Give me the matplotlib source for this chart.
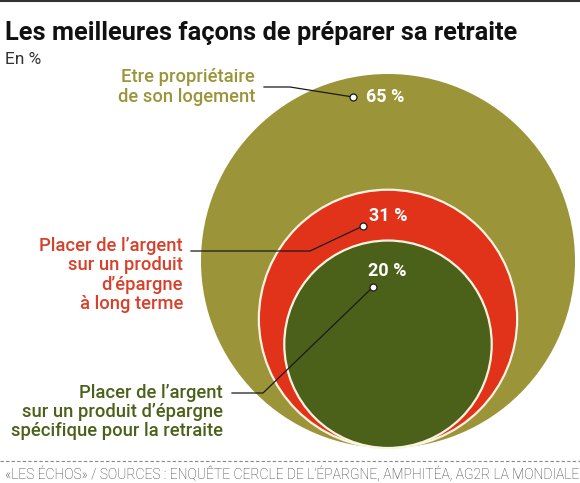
import matplotlib.pyplot as plt
from matplotlib.patches import Circle
import numpy as np

# données
valeurs = [65, 31, 20]
etiquettes_val = ['65 %', '31 %', '20 %']
libelles = ['Etre propriétaire\nde son logement',
            'Placer de l\u2019argent\nsur un produit\nd\u2019épargne\nà long terme',
            'Placer de l\u2019argent\nsur un produit d\u2019épargne\nspécifique pour la retraite']
couleurs = ['#9c9438', '#e1331a', '#4b6119']
couleurs_txt = ['#9c9438', '#d9402a', '#4b6119']

titre = 'Les meilleures façons de préparer sa retraite'
sous_titre = 'En %'
source = '«LES ÉCHOS» / SOURCES : ENQUÊTE CERCLE DE L\u2019ÉPARGNE, AMPHITÉA, AG2R LA MONDIALE'

plt.rcParams['font.family'] = ['Roboto', 'DejaVu Sans']

fig = plt.figure(figsize=(5.8, 4.83), dpi=100)
ax = fig.add_axes([0, 0, 1, 1])
ax.set_xlim(0, 580)
ax.set_ylim(483, 0)
ax.axis('off')

# cercles proportionnels (aire), posés sur la même base
cx, bas = 388, 448
k = 187 / np.sqrt(valeurs[0])
rayons = [k * np.sqrt(v) for v in valeurs]
for i, (r, c) in enumerate(zip(rayons, couleurs)):
    ec = 'none' if i == 0 else '#fbf4e0'
    ax.add_patch(Circle((cx, bas - r), r, facecolor=c, edgecolor=ec, lw=1.6, zorder=1 + i))

# points, valeurs et lignes de rappel
points = [(353, 97), (363, 226), (373, 287)]
pos_val = [(366, 97), (369, 216), (387, 271)]
align_val = ['left', 'left', 'center']
lignes = [[(264, 87), (290, 87)], [(191, 251), (310, 251)], [(232, 393), (263, 393)]]
pos_lib = [(255, 87), (183, 275), (223, 412)]
for i in range(3):
    (x0, y0), (x1, y1) = lignes[i]
    px, py = points[i]
    ax.plot([x0, x1, px], [y0, y1, py], color='#1a1a1a', lw=0.9, zorder=6)
    ax.plot(px, py, 'o', ms=5, mfc='white', mec='#1a1a1a', mew=0.9, zorder=7)
    ax.text(pos_val[i][0], pos_val[i][1], etiquettes_val[i], color='white', fontsize=13,
            fontweight='bold', ha=align_val[i], va='center', zorder=8)
    ax.text(pos_lib[i][0], pos_lib[i][1], libelles[i], color=couleurs_txt[i], fontsize=13.2,
            fontweight='medium', ha='right', va='center', linespacing=1.08, zorder=8)

# titre, sous-titre, source
ax.plot([0, 580], [0.8, 0.8], color='#333333', lw=1.5)
ax.text(5, 33, titre, fontsize=18.3, fontweight='bold', color='#111111', ha='left', va='center')
ax.text(5, 60, sous_titre, fontsize=12.5, color='#333333', ha='left', va='center')
ax.plot([0, 580], [461, 461], color='#888888', lw=0.8, ls=(0, (3, 2)))
ax.text(5, 474, source, fontsize=10, color='#333333', ha='left', va='center', fontweight='light')

fig.savefig('out.png', dpi=100)
